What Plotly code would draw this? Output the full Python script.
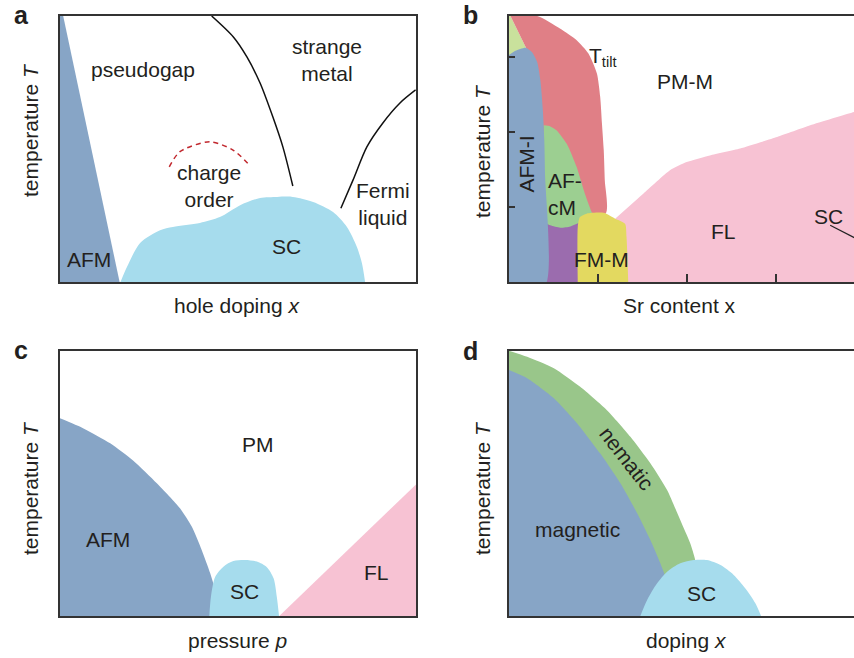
import plotly.graph_objects as go

# ---------------- data (schematic phase boundaries, axis-fraction units) -------------
# Panel a: cuprates
a_afm_x = [0.0, 0.0, 0.009, 0.169]
a_afm_y = [-0.01, 1.0, 1.0, -0.01]
a_sc_x = [0.170, 0.188, 0.225, 0.281, 0.317, 0.393, 0.449, 0.506, 0.562, 0.610, 0.654, 0.711, 0.767, 0.806, 0.834, 0.848, 0.857]
a_sc_y = [0.0, 0.056, 0.147, 0.195, 0.207, 0.222, 0.244, 0.289, 0.316, 0.320, 0.320, 0.301, 0.263, 0.207, 0.132, 0.071, 0.0]
a_pg_x = [0.426, 0.487, 0.525, 0.562, 0.598, 0.626, 0.654]
a_pg_y = [1.0, 0.921, 0.846, 0.748, 0.620, 0.508, 0.361]
a_fl_x = [0.789, 0.823, 0.862, 0.907, 0.955, 0.999]
a_fl_y = [0.277, 0.383, 0.508, 0.598, 0.673, 0.722]
a_co_x = [0.307, 0.337, 0.421, 0.486, 0.532]
a_co_y = [0.433, 0.490, 0.527, 0.496, 0.440]

# Panel b: Sr content
b_lg_x = [0.0, 0.005, 0.050, 0.050, 0.0]
b_lg_y = [1.0, 1.0, 0.877, 0.80, 0.80]
b_red_x = [0.005, 0.080, 0.144, 0.191, 0.224, 0.248, 0.257, 0.262, 0.267, 0.270, 0.272, 0.098, 0.050]
b_red_y = [1.0, 1.0, 0.953, 0.909, 0.859, 0.783, 0.696, 0.595, 0.495, 0.382, 0.257, 0.257, 0.877]
b_afm_x = [0.0, 0.019, 0.047, 0.065, 0.080, 0.089, 0.096, 0.100, 0.102, 0.103, 0.0]
b_afm_y = [0.852, 0.869, 0.881, 0.865, 0.827, 0.758, 0.645, 0.533, 0.407, -0.01, -0.01]
b_pur_x = [0.100, 0.100, 0.200, 0.200]
b_pur_y = [-0.01, 0.25, 0.25, -0.01]
b_afcm_x = [0.098, 0.117, 0.135, 0.163, 0.191, 0.214, 0.233, 0.239, 0.197, 0.173, 0.145, 0.117, 0.098]
b_afcm_y = [0.589, 0.585, 0.570, 0.520, 0.432, 0.332, 0.263, 0.244, 0.222, 0.209, 0.204, 0.213, 0.226]
b_fl_x = [0.299, 0.378, 0.453, 0.500, 0.565, 0.650, 0.754, 0.847, 0.970, 1.0, 1.0, 0.330]
b_fl_y = [0.238, 0.332, 0.420, 0.451, 0.476, 0.502, 0.545, 0.589, 0.639, 0.65, -0.01, -0.01]
b_fm_x = [0.194, 0.194, 0.200, 0.219, 0.267, 0.299, 0.327, 0.331, 0.336]
b_fm_y = [-0.01, 0.207, 0.244, 0.257, 0.260, 0.238, 0.219, 0.169, -0.01]
b_scl_x = [0.903, 0.975]
b_scl_y = [0.213, 0.164]
b_xticks = [0.25, 0.5, 0.75]
b_yticks = [0.282, 0.564, 0.846]

# Panel c: pressure
c_afm_x = [0.0, 0.066, 0.141, 0.206, 0.272, 0.337, 0.370, 0.398, 0.422, 0.441, 0.450, 0.0]
c_afm_y = [0.745, 0.707, 0.651, 0.585, 0.500, 0.406, 0.337, 0.249, 0.161, 0.073, -0.01, -0.01]
c_sc_x = [0.419, 0.424, 0.436, 0.459, 0.487, 0.520, 0.553, 0.581, 0.600, 0.609, 0.616]
c_sc_y = [-0.01, 0.073, 0.148, 0.186, 0.207, 0.211, 0.205, 0.184, 0.142, 0.073, -0.01]
c_fl_x = [0.616, 1.0, 1.0]
c_fl_y = [0.0, 0.496, 0.0]

# Panel d: doping (pnictides)
d_nem_x = [0.0, 0.051, 0.126, 0.200, 0.275, 0.341, 0.397, 0.444, 0.481, 0.509, 0.523, 0.543, 0.0]
d_nem_y = [1.0, 0.977, 0.934, 0.864, 0.776, 0.676, 0.576, 0.475, 0.362, 0.274, 0.211, -0.01, -0.01]
d_mag_x = [0.0, 0.051, 0.126, 0.191, 0.256, 0.313, 0.360, 0.397, 0.425, 0.439, 0.467, 0.0]
d_mag_y = [0.927, 0.896, 0.821, 0.727, 0.613, 0.500, 0.387, 0.286, 0.199, 0.148, -0.01, -0.01]
d_sc_x = [0.366, 0.388, 0.416, 0.444, 0.481, 0.519, 0.556, 0.594, 0.631, 0.664, 0.692, 0.711]
d_sc_y = [-0.01, 0.060, 0.123, 0.167, 0.199, 0.211, 0.211, 0.192, 0.155, 0.104, 0.048, -0.01]

# ---------------- styles ----------------
BLUE = "#87a5c6"
SCBLUE = "#a6dced"
PINK = "#f7c2d3"
RED = "#e07f86"
GREEN = "#9ccf91"
NEMGREEN = "#99c68a"
LGREEN = "#c9e19c"
PURPLE = "#9b6cae"
YELLOW = "#e3d960"
TXT = "#231f20"
FRAME = "#333333"
FONT = "Liberation Sans, Arial, sans-serif"
FS = 21
W, H = 854, 658

fig = go.Figure()


def region(xs, ys, color, ax, shape="spline", smooth=0.8):
    fig.add_trace(go.Scatter(
        x=xs, y=ys, fill="toself", fillcolor=color, mode="lines",
        line=dict(width=0, color=color, shape=shape, smoothing=smooth if shape == "spline" else None),
        xaxis="x" + ax, yaxis="y" + ax, hoverinfo="skip", showlegend=False))


def curve(xs, ys, ax, color="#111111", width=1.5, dash=None):
    fig.add_trace(go.Scatter(
        x=xs, y=ys, mode="lines",
        line=dict(width=width, color=color, shape="spline", smoothing=0.8, dash=dash),
        xaxis="x" + ax, yaxis="y" + ax, hoverinfo="skip", showlegend=False))


# panel a
region(a_afm_x, a_afm_y, BLUE, "", shape="linear")
region(a_sc_x, a_sc_y, SCBLUE, "")
curve(a_pg_x, a_pg_y, "")
curve(a_fl_x, a_fl_y, "")
curve(a_co_x, a_co_y, "", color="#c1272d", width=1.5, dash="5px,4px")

# panel b
region(b_lg_x, b_lg_y, LGREEN, "2", shape="linear")
region(b_red_x, b_red_y, RED, "2", smooth=0.6)
region(b_pur_x, b_pur_y, PURPLE, "2", shape="linear")
region(b_afcm_x, b_afcm_y, GREEN, "2", smooth=0.6)
region(b_afm_x, b_afm_y, BLUE, "2", smooth=0.6)
region(b_fl_x, b_fl_y, PINK, "2", smooth=0.5)
region(b_fm_x, b_fm_y, YELLOW, "2", smooth=0.6)
fig.add_trace(go.Scatter(x=b_scl_x, y=b_scl_y, mode="lines", line=dict(width=1.2, color="#222222"),
                         xaxis="x2", yaxis="y2", hoverinfo="skip", showlegend=False))

# panel c
region(c_afm_x, c_afm_y, BLUE, "3", smooth=0.6)
region(c_sc_x, c_sc_y, SCBLUE, "3", smooth=0.8)
region(c_fl_x, c_fl_y, PINK, "3", shape="linear")

# panel d
region(d_nem_x, d_nem_y, NEMGREEN, "4", smooth=0.6)
region(d_mag_x, d_mag_y, BLUE, "4", smooth=0.6)
region(d_sc_x, d_sc_y, SCBLUE, "4", smooth=0.8)


def ax_common(**kw):
    base = dict(showgrid=False, zeroline=False, showticklabels=False, showline=True,
                linecolor=FRAME, linewidth=1.5, fixedrange=True, ticks="")
    base.update(kw)
    return base


ya_top = [1 - 282 / H, 1 - 16 / H]
ya_bot = [1 - 616 / H, 1 - 350.7 / H]
xa_left = [60 / W, 416 / W]
xa_right = [508.7 / W, 1.0]

fig.update_layout(
    width=W, height=H, margin=dict(l=0, r=0, t=0, b=0),
    paper_bgcolor="white", plot_bgcolor="white",
    font=dict(family=FONT, color=TXT, size=FS),
    xaxis=ax_common(domain=xa_left, range=[0, 1], mirror=True, anchor="y"),
    yaxis=ax_common(domain=ya_top, range=[0, 1], mirror=True, anchor="x"),
    xaxis2=ax_common(domain=xa_right, range=[0, 0.970], mirror=True, anchor="y2",
                     ticks="inside", tickvals=b_xticks, ticklen=8, tickwidth=1.5, tickcolor=FRAME),
    yaxis2=ax_common(domain=ya_top, range=[0, 1], mirror=False, anchor="x2",
                     ticks="inside", tickvals=b_yticks, ticklen=7, tickwidth=1.5, tickcolor=FRAME),
    xaxis3=ax_common(domain=xa_left, range=[0, 1], mirror=True, anchor="y3"),
    yaxis3=ax_common(domain=ya_bot, range=[0, 1], mirror=True, anchor="x3"),
    xaxis4=ax_common(domain=[509 / W, 1.0], range=[0, 0.969], mirror=True, anchor="y4"),
    yaxis4=ax_common(domain=ya_bot, range=[0, 1], mirror=False, anchor="x4"),
)

ann = []


def label(text, x, y, ax="", size=FS, angle=0, xanchor="center", align="center"):
    ann.append(dict(text=text, x=x, y=y, xref="x" + ax, yref="y" + ax, showarrow=False,
                    font=dict(size=size, color=TXT, family=FONT), textangle=angle,
                    xanchor=xanchor, yanchor="middle", align=align))


def ptext(text, px, py, size=FS, angle=0, bold=False, xanchor="center"):
    ann.append(dict(text=("<b>%s</b>" % text) if bold else text, x=px / W, y=1 - py / H,
                    xref="paper", yref="paper", showarrow=False,
                    font=dict(size=size, color=TXT, family=FONT), textangle=angle,
                    xanchor=xanchor, yanchor="middle"))


# panel a labels
label("pseudogap", 0.233, 0.80)
label("strange<br>metal", 0.75, 0.835)
label("charge<br>order", 0.419, 0.36)
label("Fermi<br>liquid", 0.907, 0.295)
label("SC", 0.637, 0.135)
label("AFM", 0.082, 0.085)

# panel b labels
label("T<sub>tilt</sub>", 0.221, 0.845, "2", xanchor="left")
label("PM-M", 0.496, 0.755, "2")
label("AFM-I", 0.051, 0.445, "2", angle=-90)
label("AF-<br>cM", 0.106, 0.33, "2", xanchor="left", align="left")
label("FM-M", 0.262, 0.085, "2")
label("FL", 0.604, 0.19, "2")
label("SC", 0.899, 0.248, "2")

# panel c labels
label("PM", 0.557, 0.648, "3")
label("AFM", 0.136, 0.29, "3")
label("SC", 0.517, 0.092, "3")
label("FL", 0.888, 0.164, "3")

# panel d labels
label("magnetic", 0.193, 0.325, "4")
label("nematic", 0.331, 0.594, "4", angle=52)
label("SC", 0.542, 0.083, "4")

# axis titles
ptext("temperature <i>T</i>", 30, 130, angle=-90)
ptext("hole doping <i>x</i>", 237, 306)
ptext("temperature <i>T</i>", 482, 151, angle=-90)
ptext("Sr content x", 679.5, 306)
ptext("temperature <i>T</i>", 30, 488, angle=-90)
ptext("pressure <i>p</i>", 237.5, 640)
ptext("temperature <i>T</i>", 482, 488, angle=-90)
ptext("doping <i>x</i>", 686, 640)

# panel letters
ptext("a", 12, 15, size=25, bold=True, xanchor="left")
ptext("b", 461, 15, size=25, bold=True, xanchor="left")
ptext("c", 12, 350, size=25, bold=True, xanchor="left")
ptext("d", 461, 351, size=25, bold=True, xanchor="left")

fig.update_layout(annotations=ann)
fig.write_html("out.html")
